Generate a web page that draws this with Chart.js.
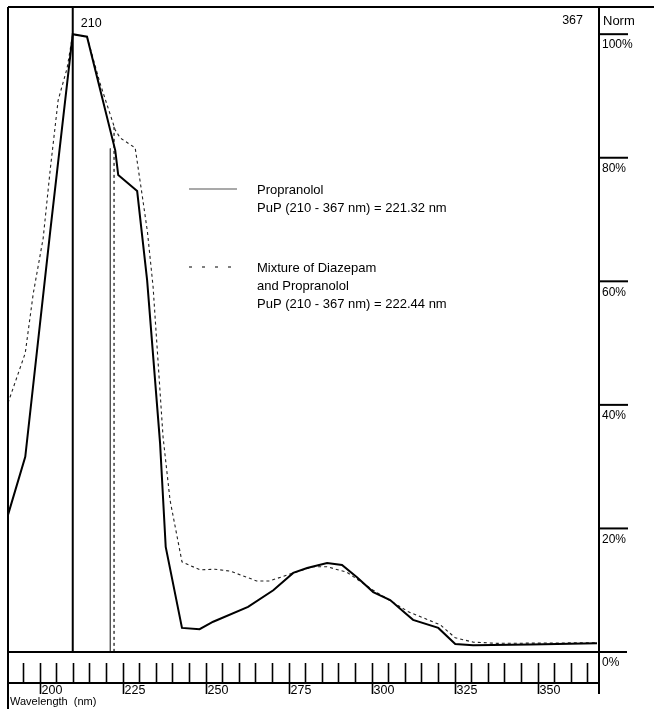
<!DOCTYPE html>
<html>
<head>
<meta charset="utf-8">
<script src="https://cdn.jsdelivr.net/npm/chart.js@4.4.1/dist/chart.umd.min.js"></script>
<style>
  html, body { margin: 0; padding: 0; background: #fff; }
  #wrap { width: 654px; height: 709px; }
</style>
</head>
<body>
<div id="wrap"><canvas id="spectrum" width="654" height="709"></canvas></div>
<script>
// values (wavelength nm / normalised %)
const wlPropranolol = [190.5, 195.7, 203.2, 210, 214.3, 222.8, 223.7, 229.4, 232.4, 236.3, 238.0, 242.9, 248.2, 252.3,
  262.8, 270.4, 276.4, 280.6, 286.6, 291.1, 295.6, 300.5, 305.6, 310.1, 312.5, 320.1, 325.2, 330.6, 347.8, 367.9];
const normPropranolol = [22.2, 31.6, 68.0, 100, 99.6, 81.2, 77.2, 74.6, 60.2, 33.8, 17.0, 3.9, 3.7, 4.9,
  7.3, 10.0, 12.8, 13.6, 14.4, 14.1, 12.1, 9.7, 8.4, 6.3, 5.2, 3.9, 1.3, 1.1, 1.2, 1.4];

const wlMixture = [190.5, 195.7, 198.1, 201.1, 203.2, 205.6, 208.3, 210, 214.3, 218.2, 222.8, 224.3, 228.8, 231.0, 232.5,
  234.2, 235.4, 237.2, 239.3, 242.9, 248.3, 252.8, 257.4, 265.4, 269.3, 276.4, 282.4, 286.6, 292.6, 300.5,
  311.1, 320.7, 325.2, 330.6, 337.8, 367.9];
const normMixture = [40.3, 48.4, 58.0, 67.0, 78.0, 89.3, 94.5, 100, 99.6, 92.1, 84.5, 83.2, 81.6, 73.6, 68.0,
  59.1, 49.4, 34.8, 24.6, 14.6, 13.3, 13.4, 13.1, 11.5, 11.5, 12.8, 13.8, 13.8, 12.9, 10.0,
  6.5, 4.4, 2.3, 1.6, 1.4, 1.5];

// PuP markers and range marker
const pupPropranolol = 221.32, pupPropranololTop = 81.5;
const pupMixture = 222.44, pupMixtureTop = 85.0;
const rangeStart = 210, rangeEnd = 367;

// axes
const xMin = 190.5, xMax = 368.5;
const yMin = 0, yMax = 104.4;
const xMajorTicks = [200, 225, 250, 275, 300, 325, 350];
const xMinorStep = 5;
const yTicks = [0, 20, 40, 60, 80, 100];
const yTickLabels = ['0%', '20%', '40%', '60%', '80%', '100%'];

const legendLines = [
  { dash: [], lines: ['Propranolol', 'PuP (210 - 367 nm) = 221.32 nm'] },
  { dash: [3, 10], lines: ['Mixture of Diazepam', 'and Propranolol', 'PuP (210 - 367 nm) = 222.44 nm'] }
];

const FONT = '"Liberation Sans", Arial, sans-serif';

function toPoints(xs, ys) {
  return xs.map((x, i) => ({ x: x, y: ys[i] }));
}

function line(ctx, x1, y1, x2, y2) {
  ctx.beginPath();
  ctx.moveTo(x1, y1);
  ctx.lineTo(x2, y2);
  ctx.stroke();
}

// frame, tick strip, right-hand % labels and the legend block
const framePlugin = {
  id: 'frame',
  afterDraw(chart) {
    const ctx = chart.ctx, a = chart.chartArea;
    const xs = chart.scales.x, ys = chart.scales.y;
    ctx.save();
    ctx.strokeStyle = '#000';
    ctx.fillStyle = '#000';
    ctx.lineWidth = 2;
    line(ctx, a.left, a.top, chart.width, a.top);
    line(ctx, a.left, a.top, a.left, chart.height);
    line(ctx, a.right, a.top, a.right, a.bottom + 42);
    line(ctx, a.left, a.bottom, a.right + 28, a.bottom);

    // tick strip under the plot
    const base = a.bottom + 31;
    line(ctx, a.left, base, a.right, base);
    ctx.lineWidth = 1.6;
    for (let v = Math.ceil(xMin / xMinorStep) * xMinorStep; v <= xMax; v += xMinorStep) {
      const px = Math.round(xs.getPixelForValue(v)) + 0.5;
      if (xMajorTicks.includes(v)) line(ctx, px, a.bottom + 11, px, a.bottom + 42);
      else line(ctx, px, a.bottom + 11, px, base);
    }
    ctx.font = '12.5px ' + FONT;
    ctx.textBaseline = 'alphabetic';
    ctx.textAlign = 'left';
    xMajorTicks.forEach(v => {
      ctx.fillText(String(v), xs.getPixelForValue(v) + 2, a.bottom + 42);
    });
    ctx.font = '11px ' + FONT;
    ctx.textBaseline = 'middle';
    ctx.fillText('Wavelength  (nm)', a.left + 2, a.bottom + 50);

    // right axis
    ctx.lineWidth = 2;
    ctx.font = '12px ' + FONT;
    ctx.textBaseline = 'top';
    yTicks.forEach((v, i) => {
      const py = ys.getPixelForValue(v);
      if (v > 0) line(ctx, a.right, py, a.right + 29, py);
      ctx.fillText(yTickLabels[i], a.right + 3, py + 5);
    });
    ctx.font = '13px ' + FONT;
    ctx.textBaseline = 'middle';
    ctx.fillText('Norm', a.right + 4, a.top + 14);

    // range labels
    ctx.font = '12.5px ' + FONT;
    ctx.fillText(String(rangeStart), xs.getPixelForValue(rangeStart) + 8, a.top + 17);
    ctx.textAlign = 'right';
    ctx.fillText(String(rangeEnd), xs.getPixelForValue(rangeEnd) - 11, a.top + 14);

    // legend
    ctx.textAlign = 'left';
    ctx.font = '13px ' + FONT;
    const lx = 189, tx = 257;
    let y = 190;
    legendLines.forEach((item, k) => {
      ctx.strokeStyle = k === 0 ? '#555' : '#000';
      ctx.lineWidth = 1.2;
      ctx.setLineDash(item.dash);
      line(ctx, lx, y - 1, k === 0 ? 237 : 233, y - 1);
      ctx.setLineDash([]);
      item.lines.forEach((t, j) => {
        ctx.fillText(t, tx, y + j * 18);
      });
      y += 78;
    });
    ctx.restore();
  }
};

new Chart(document.getElementById('spectrum'), {
  type: 'line',
  data: {
    datasets: [
      {
        label: 'Propranolol',
        data: toPoints(wlPropranolol, normPropranolol),
        borderColor: '#000',
        borderWidth: 2,
        pointRadius: 0,
        tension: 0
      },
      {
        label: 'Mixture of Diazepam and Propranolol',
        data: toPoints(wlMixture, normMixture),
        borderColor: '#222',
        borderWidth: 1.1,
        borderDash: [3, 3],
        pointRadius: 0,
        tension: 0
      },
      {
        label: 'PuP Propranolol',
        data: [{ x: pupPropranolol, y: pupPropranololTop }, { x: pupPropranolol, y: 0 }],
        borderColor: '#555',
        borderWidth: 1,
        pointRadius: 0
      },
      {
        label: 'PuP Mixture',
        data: [{ x: pupMixture, y: pupMixtureTop }, { x: pupMixture, y: 0 }],
        borderColor: '#222',
        borderWidth: 1.3,
        borderDash: [3, 3],
        pointRadius: 0
      },
      {
        label: 'range start',
        data: [{ x: rangeStart, y: yMin }, { x: rangeStart, y: yMax }],
        borderColor: '#000',
        borderWidth: 2,
        pointRadius: 0
      }
    ]
  },
  options: {
    responsive: false,
    animation: false,
    layout: { padding: { left: 8, top: 7, right: 55, bottom: 57 } },
    scales: {
      x: { type: 'linear', min: xMin, max: xMax, display: false },
      y: { type: 'linear', min: yMin, max: yMax, display: false }
    },
    plugins: { legend: { display: false }, tooltip: { enabled: false } }
  },
  plugins: [framePlugin]
});
</script>
</body>
</html>
